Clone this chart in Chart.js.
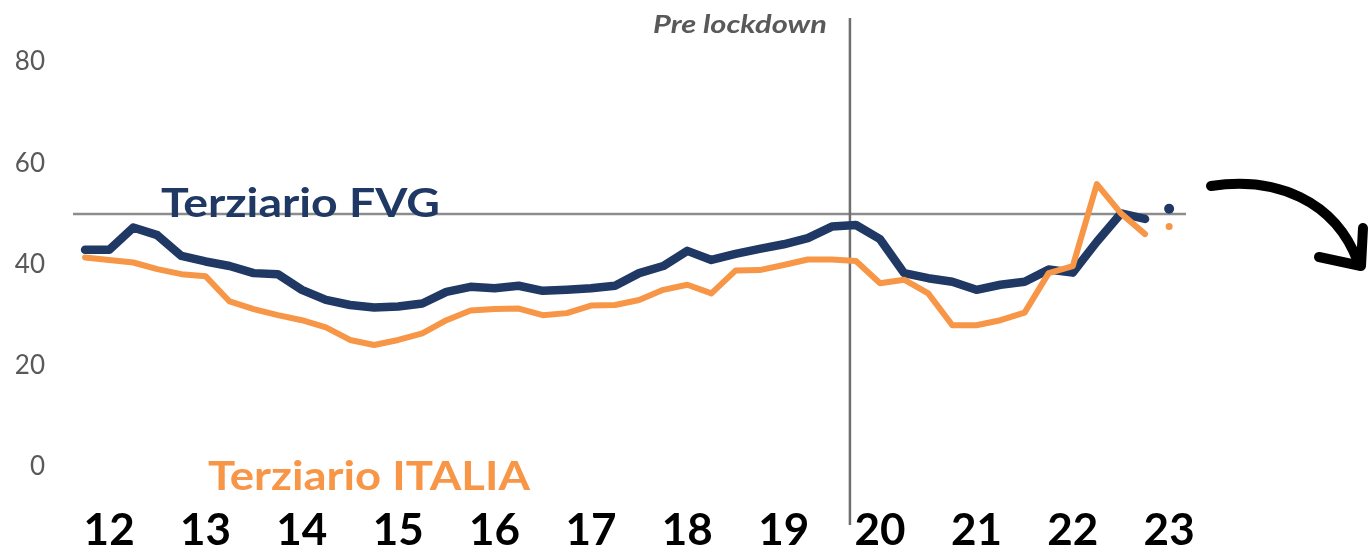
<!DOCTYPE html>
<html><head><meta charset="utf-8">
<script src="https://cdn.jsdelivr.net/npm/chart.js@4.4.1/dist/chart.umd.min.js"></script>
<style>html,body{margin:0;padding:0;background:#fff}#wrap{width:1370px;height:546px}</style>
</head><body><div id="wrap"><canvas id="c" width="1370" height="546"></canvas></div>
<script>
const yearLabels = ['12','13','14','15','16','17','18','19','20','21','22','23'];
const yTicks = [0,20,40,60,80];
const fvg = [42.9,42.9,47.3,45.8,41.7,40.6,39.7,38.3,38.1,35.0,33.0,32.0,31.5,31.7,32.3,34.6,35.6,35.3,35.8,34.8,35.0,35.3,35.8,38.3,39.7,42.7,40.9,42.1,43.1,44.0,45.2,47.5,47.8,45.0,38.3,37.3,36.6,35.0,36.0,36.6,39.0,38.4,44.5,50.1,49.0];
const italia = [41.4,40.9,40.4,39.1,38.1,37.7,32.7,31.2,30.0,29.0,27.6,25.1,24.1,25.1,26.4,29.0,30.9,31.2,31.3,30.0,30.4,31.9,32.0,33.0,35.0,36.0,34.3,38.8,38.9,39.9,41.0,41.0,40.7,36.3,37.0,34.3,28.0,28.0,29.0,30.5,38.3,39.7,55.9,50.1,46.0];
const fvgNext = [51.0];
const italiaNext = [47.5];
const refLevel = 50;
const lockdownAt = 31.75;

const NAVY = '#1F3864', ORANGE = '#F79646';
const toPts = arr => arr.map((v,i)=>({x:i,y:v}));
const nextPts = (arr, start) => arr.map((v,i)=>({x:start+i,y:v}));

const overlay = {
  id:'overlay',
  beforeDatasetsDraw(chart){
    const {ctx, chartArea:a, scales:{x,y}} = chart;
    ctx.save();
    const yy = y.getPixelForValue(refLevel);
    ctx.strokeStyle = '#8c8c8c'; ctx.lineWidth = 2.5;
    ctx.beginPath(); ctx.moveTo(a.left, yy); ctx.lineTo(a.right, yy); ctx.stroke();
    const xx = x.getPixelForValue(lockdownAt);
    ctx.strokeStyle = '#6e6e6e'; ctx.lineWidth = 2.5;
    ctx.beginPath(); ctx.moveTo(xx, a.top); ctx.lineTo(xx, 525); ctx.stroke();
    ctx.restore();
  },
  afterDraw(chart){
    const {ctx, scales:{x}} = chart;
    ctx.save();
    const drawFit = (txt, font, color, left, base, w) => {
      ctx.font = font; ctx.fillStyle = color; ctx.textBaseline='alphabetic'; ctx.textAlign='left';
      const m = ctx.measureText(txt).width;
      ctx.save(); ctx.translate(left, base); ctx.scale(w/m, 1); ctx.fillText(txt, 0, 0); ctx.restore();
    };
    drawFit('Terziario FVG', 'bold 40px Lato', NAVY, 161, 217, 279);
    drawFit('Terziario ITALIA', 'bold 41px Lato', ORANGE, 208, 490, 322);
    const xx = x.getPixelForValue(lockdownAt);
    drawFit('Pre lockdown', 'italic bold 24px Lato', '#595959', 653, 33, 174);
    // arrow
    ctx.strokeStyle = '#000'; ctx.lineWidth = 10; ctx.lineCap='round'; ctx.lineJoin='round';
    ctx.beginPath(); ctx.moveTo(1211,186); ctx.bezierCurveTo(1275,176,1335,200,1358,262); ctx.stroke();
    ctx.beginPath(); ctx.moveTo(1319,257); ctx.lineTo(1361,266); ctx.lineTo(1363,228); ctx.stroke();
    ctx.restore();
  }
};

new Chart(document.getElementById('c'), {
  type:'line',
  data:{datasets:[
    {data:toPts(italia), borderColor:ORANGE, borderWidth:6, pointRadius:0, tension:0, borderCapStyle:'round', borderJoinStyle:'round'},
    {data:toPts(fvg), borderColor:NAVY, borderWidth:8.5, pointRadius:0, tension:0, borderCapStyle:'round', borderJoinStyle:'round'},
    {data:nextPts(italiaNext, italia.length), showLine:false, pointRadius:3.5, pointBackgroundColor:ORANGE, pointBorderWidth:0},
    {data:nextPts(fvgNext, fvg.length), showLine:false, pointRadius:5, pointBackgroundColor:NAVY, pointBorderWidth:0}
  ]},
  options:{
    responsive:false, animation:false,
    layout:{padding:{top:18,right:184,left:0,bottom:0}},
    plugins:{legend:{display:false}, tooltip:{enabled:false}},
    scales:{
      x:{type:'linear', min:-0.5, max:45.7,
        grid:{display:false, drawTicks:false}, border:{display:false},
        afterBuildTicks(s){ s.ticks = yearLabels.map((_,i)=>({value:1+4*i})); },
        afterFit(s){ s.height = 79; s.paddingLeft = 0; s.paddingRight = 0; },
        ticks:{autoSkip:false, maxRotation:0, padding:37, color:'#000', font:{family:'Lato', weight:'bold', size:44},
          callback:(v)=> yearLabels[Math.round((v-1)/4)] }
      },
      y:{min:0, max:88.7,
        grid:{display:false, drawTicks:false}, border:{display:false},
        afterBuildTicks(s){ s.ticks = yTicks.map(v=>({value:v})); },
        afterFit(s){ s.width = 73; s.paddingTop = 0; s.paddingBottom = 0; },
        ticks:{padding:28, color:'#595959', font:{family:'Lato', size:26}}
      }
    }
  },
  plugins:[overlay]
});
</script></body></html>
